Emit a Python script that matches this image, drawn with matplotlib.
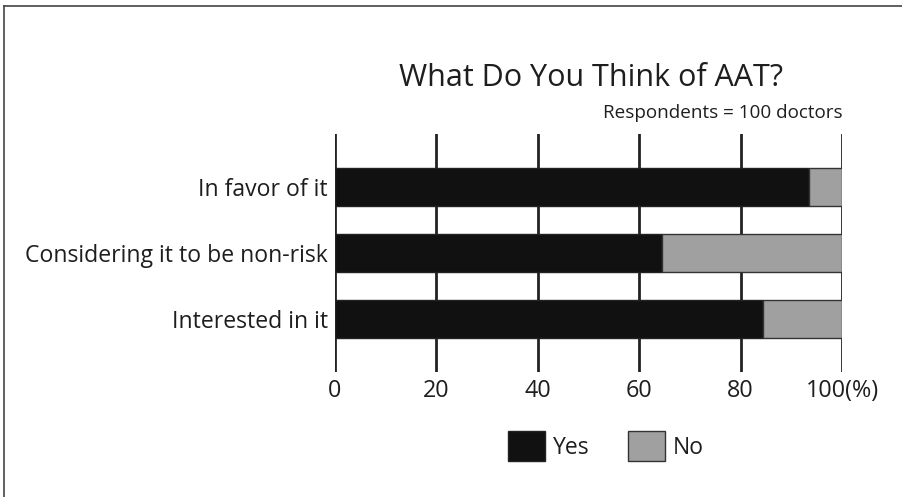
import matplotlib
matplotlib.use("Agg")
import matplotlib.pyplot as plt
from matplotlib.lines import Line2D
from matplotlib.patches import Patch

categories = ["In favor of it", "Considering it to be non-risk", "Interested in it"]
yes_values = [93.5, 64.5, 84.5]
no_values = [6.5, 35.5, 15.5]
xticks = [0, 20, 40, 60, 80, 100]
xtick_labels = ["0", "20", "40", "60", "80", "100(%)"]
series_names = ["Yes", "No"]

plt.rcParams['font.family'] = ['Open Sans', 'DejaVu Sans']
TXT = "#1e1e1e"
BLACK = "#111111"
GRAY = "#a0a0a0"

fig = plt.figure(figsize=(9.02, 4.97), dpi=100)
ax = fig.add_axes([335/902, 1-372/497, 507/902, 238/497])

ypos = list(range(len(categories)))
ax.barh(ypos, yes_values, height=0.57, color=BLACK, edgecolor="#222222", linewidth=1)
ax.barh(ypos, no_values, left=yes_values, height=0.57, color=GRAY, edgecolor="#333333", linewidth=1)

ax.set_xlim(0, 100)
ax.set_ylim(2.8, -0.8)
for x in xticks:
    ax.axvline(x, color="#222222", linewidth=2, zorder=0)
for s in ax.spines.values():
    s.set_visible(False)
ax.set_xticks(xticks)
ax.set_xticklabels(xtick_labels, fontsize=16.8, color=TXT)
ax.set_yticks(ypos)
ax.set_yticklabels(categories, fontsize=16.6, color=TXT)
ax.tick_params(length=0)
ax.tick_params(axis='x', pad=5)
ax.tick_params(axis='y', pad=5)

fig.text(591/902, 1-78/497, "What Do You Think of AAT?", fontsize=22, color=TXT,
         ha="center", va="center")
fig.text(843/902, 1-113/497, "Respondents = 100 doctors", fontsize=13.6, color=TXT,
         ha="right", va="center")

handles = [Patch(facecolor=BLACK, edgecolor="#222222"), Patch(facecolor=GRAY, edgecolor="#333333")]
fig.legend(handles, series_names, loc="center", bbox_to_anchor=(606/902, 1-446/497),
           ncol=2, frameon=False, fontsize=16.5, handlelength=1.6, handleheight=1.6,
           handletextpad=0.35, columnspacing=1.7, labelcolor=TXT)

fig.add_artist(Line2D([4/902, 1], [1-6/497, 1-6/497], color="#444444", linewidth=1.2))
fig.add_artist(Line2D([4/902, 4/902], [0, 1-6/497], color="#444444", linewidth=1.2))

fig.savefig("out.png", dpi=100)
